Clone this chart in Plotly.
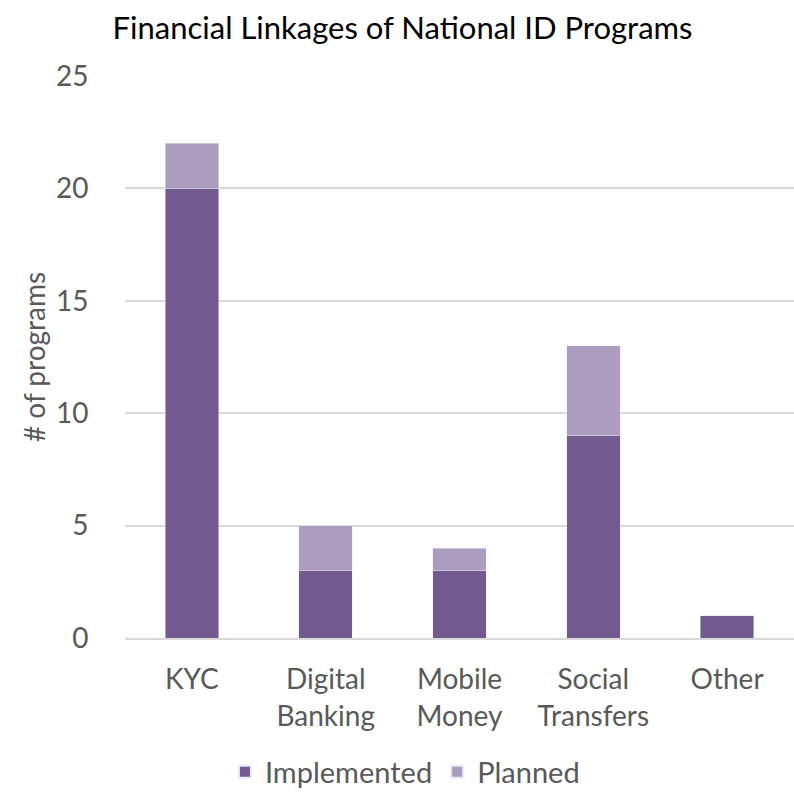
import plotly.graph_objects as go

categories = ["KYC", "Digital<br>Banking", "Mobile<br>Money", "Social<br>Transfers", "Other"]
implemented = [20, 3, 3, 9, 1]
planned = [2, 2, 1, 4, 0]
y_ticks = [0, 5, 10, 15, 20, 25]

FONT = "Lato"
fig = go.Figure()
fig.add_trace(go.Bar(x=categories, y=implemented, name="Implemented", marker_color="#725A8F"))
fig.add_trace(go.Bar(x=categories, y=planned, name="Planned", marker_color="#AB9CC0"))

fig.update_layout(
    barmode="stack",
    bargap=0.6,
    width=794, height=794,
    margin=dict(l=125, r=0, t=76, b=156),
    paper_bgcolor="white", plot_bgcolor="white",
    font=dict(family=FONT, color="#595959", size=28),
    title=dict(text="Financial Linkages of National ID Programs", x=0.507, xref="container",
               xanchor="center", y=1 - 28/794, yref="container", yanchor="middle",
               font=dict(family=FONT, size=31, color="#000000")),
    legend=dict(orientation="h", x=0.51, xref="container", xanchor="center",
                y=1 - 772/794, yref="container", yanchor="middle",
                font=dict(size=29, color="#595959"), itemsizing="constant",
                traceorder="normal"),
    showlegend=True,
)
fig.update_yaxes(range=[0, 25], tickvals=y_ticks, showgrid=True, gridcolor="#D9D9D9",
                 gridwidth=1.5, zeroline=False, showline=False, automargin=False,
                 ticks="outside", ticklen=30, tickcolor="rgba(0,0,0,0)",
                 title=dict(text="# of programs", standoff=2, font=dict(size=28, color="#595959")))
fig.update_xaxes(showline=True, linecolor="#D9D9D9", linewidth=1.5, automargin=False,
                 ticks="outside", ticklen=16, tickcolor="rgba(0,0,0,0)")

fig.write_html("out.html", config={"displayModeBar": False},
               post_script="document.body.style.margin='0';")
